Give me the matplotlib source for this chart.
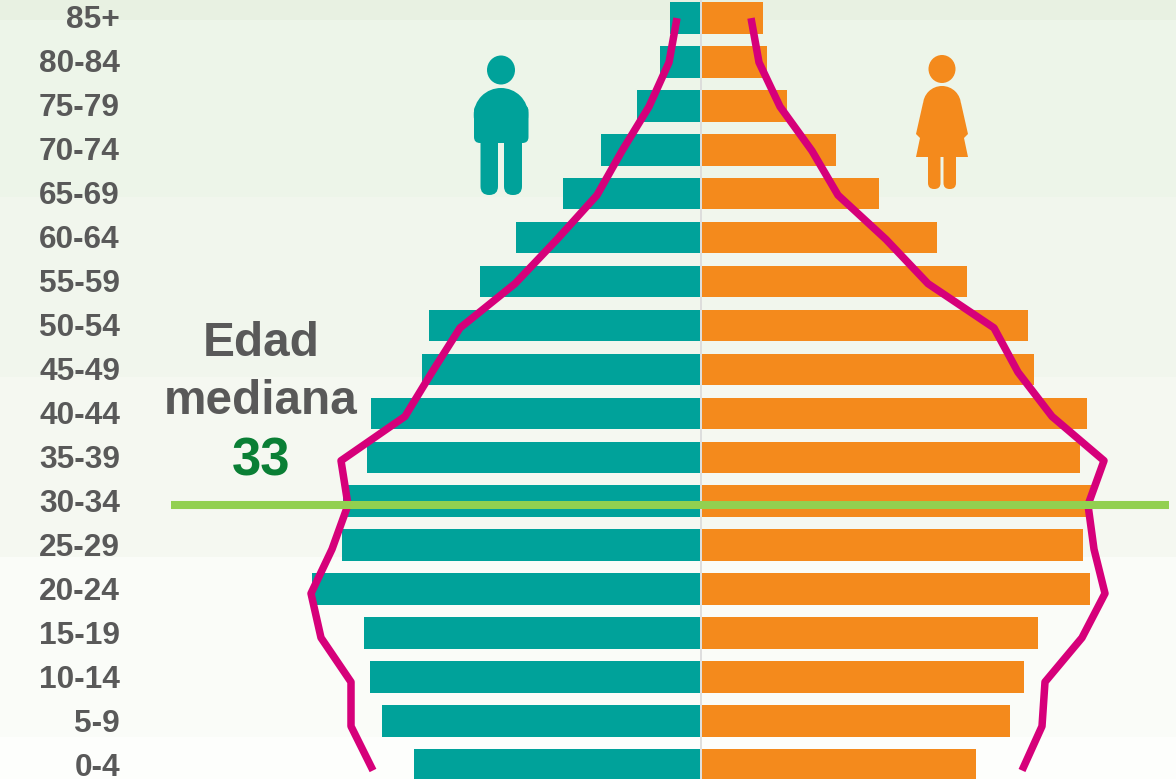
import matplotlib
matplotlib.use("Agg")
import matplotlib.pyplot as plt
from matplotlib.patches import Ellipse, FancyBboxPatch, Polygon

plt.rcParams['font.family'] = ['Liberation Sans', 'DejaVu Sans']

ages = ["0-4", "5-9", "10-14", "15-19", "20-24", "25-29", "30-34", "35-39", "40-44",
        "45-49", "50-54", "55-59", "60-64", "65-69", "70-74", "75-79", "80-84", "85+"]

# bar lengths (no scale is printed on the chart)
male = [286, 318, 330, 336, 388, 358, 357, 333, 329, 278, 271, 220, 184, 137, 99, 63, 40, 30]
female = [274, 308, 322, 336, 388, 381, 390, 378, 385, 332, 326, 265, 235, 177, 134, 85, 65, 61]

# comparison profile (pink line)
male_line = [328, 350, 350, 380, 390, 369, 353, 360, 296, 269, 241, 186, 144, 104, 79, 52, 32, 24]
female_line = [321, 341, 344, 381, 404, 393, 387, 403, 351, 317, 293, 227, 185, 137, 111, 79, 58, 50]

median_age = 33

band_edges = [779, 737, 557, 377, 197, 20, 0]
band_colors = ["#fdfefc", "#fafcf8", "#f5f8f1", "#f1f6ed", "#edf5e9", "#e8f1e2"]

teal = "#00a29a"
orange = "#f48a1c"
pink = "#d6007a"
lime = "#92d050"
gray = "#595959"


def to_row(py):
    return (765 - py) / 43.95


fig = plt.figure(figsize=(11.76, 7.79), dpi=100)
ax = fig.add_axes([0, 0, 1, 1])
ax.set_xlim(-701, 475)
ax.set_ylim(to_row(779), to_row(0))
ax.axis("off")

for i, c in enumerate(band_colors):
    ax.axhspan(to_row(band_edges[i]), to_row(band_edges[i + 1]), color=c, lw=0, zorder=0)

rows = list(range(len(ages)))
ax.barh(rows, [-m for m in male], left=-1, height=0.72, color=teal, zorder=2)
ax.barh(rows, female, left=1, height=0.72, color=orange, zorder=2)
ax.axvline(0, color="#d9d9d9", lw=1.2, zorder=3)

# the pink line runs slightly off the bar centres
line_rows = [r * 1.007 - 0.125 for r in rows]
ax.plot([-m for m in male_line], line_rows, color=pink, lw=5.4, solid_capstyle="butt",
        solid_joinstyle="round", zorder=4)
ax.plot(female_line, line_rows, color=pink, lw=5.4, solid_capstyle="butt",
        solid_joinstyle="round", zorder=4)

# median line goes over everything
ax.plot([-530, 468], [to_row(504.5), to_row(504.5)], color=lime, lw=5.8, solid_capstyle="butt", zorder=5)

for r, a in zip(rows, ages):
    ax.text(-581, r + 0.02, a, ha="right", va="center_baseline", fontsize=22.8, fontweight="bold", color=gray)

ax.text(-440, to_row(343), "Edad", ha="center", va="center", fontsize=34.4, fontweight="bold", color=gray)
ax.text(-440, to_row(401), "mediana", ha="center", va="center", fontsize=34.4, fontweight="bold", color=gray)
ax.text(-440, to_row(462), str(median_age), ha="center", va="center", fontsize=38, fontweight="bold", color="#0a7f35")

# icons, in pixel coordinates
icons = fig.add_axes([0, 0, 1, 1], facecolor="none")
icons.set_xlim(0, 1176)
icons.set_ylim(779, 0)
icons.axis("off")


def rounded(x0, y0, x1, y1, r, color):
    icons.add_patch(FancyBboxPatch((x0 + r, y0 + r), x1 - x0 - 2 * r, y1 - y0 - 2 * r,
                                   boxstyle=f"round,pad={r},rounding_size={r}", fc=color, ec="none"))


# man
icons.add_patch(Ellipse((501, 70), 28, 29, fc=teal, ec="none"))
icons.add_patch(Ellipse((501, 115), 54.5, 54, fc=teal, ec="none"))
rounded(474, 105, 528.5, 143, 6, teal)
rounded(480.5, 120, 498, 195, 8.7, teal)
rounded(504, 120, 522, 195, 8.7, teal)

# woman
icons.add_patch(Ellipse((942, 69), 27, 28, fc=orange, ec="none"))
icons.add_patch(Ellipse((942, 105), 38, 38, fc=orange, ec="none"))
icons.add_patch(Polygon([(923, 103), (961, 103), (968, 134), (964, 138), (968, 157), (916, 157),
                         (920, 138), (916, 134)], fc=orange, ec="none"))
rounded(928, 150, 940.5, 189, 6, orange)
rounded(943.5, 150, 956, 189, 6, orange)

fig.savefig("out.png", dpi=100)
